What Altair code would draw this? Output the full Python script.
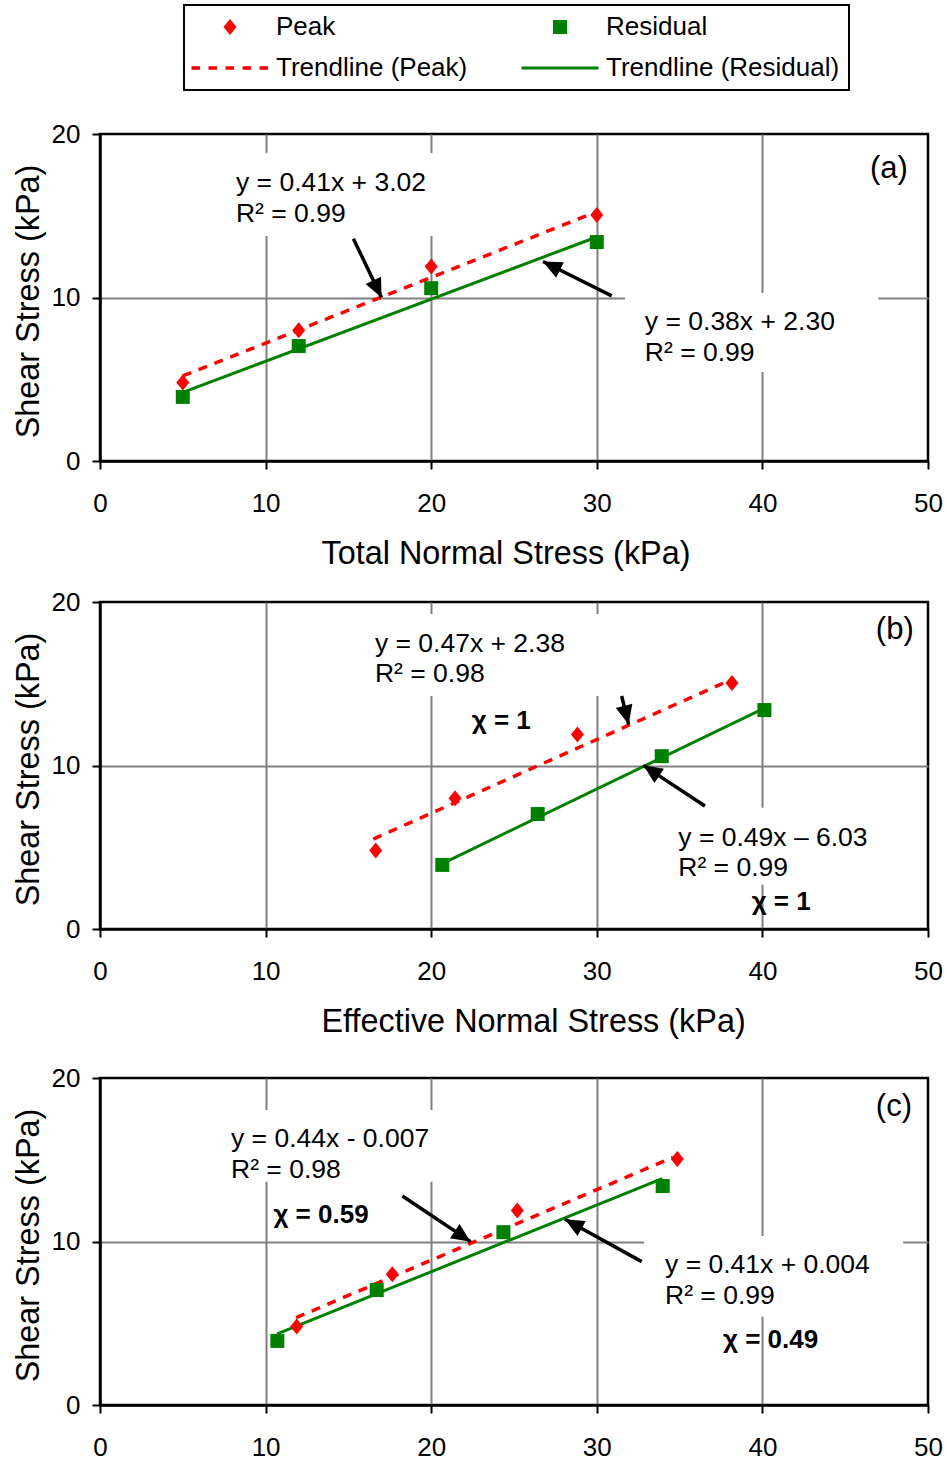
import math
import altair as alt
import pandas as pd

FONT = "Liberation Sans"
W, H = 828, 327
X_DOMAIN = [0, 50]
Y_DOMAIN = [0, 20]
X_TICKS = [0, 10, 20, 30, 40, 50]
Y_TICKS = [0, 10, 20]

SERIES = ["Peak", "Trendline (Peak)", "Residual", "Trendline (Residual)"]
SERIES_COLORS = ["#FF0000", "#FF0000", "#008000", "#008000"]

# shear stress values (kPa)
PEAK_TAU = [4.8, 8.0, 11.9, 15.05]
RES_TAU = [3.92, 7.03, 10.57, 13.39]

# normal stress values (kPa) per panel
A_PEAK_X = [5, 12, 20, 30]
A_RES_X = [5, 12, 20, 30]
B_PEAK_X = [16.65, 21.44, 28.83, 38.16]
B_RES_X = [20.67, 26.43, 33.92, 40.12]
C_PEAK_X = [11.88, 17.65, 25.2, 34.86]
C_RES_X = [10.71, 16.71, 24.36, 33.98]

# trendline end points
A_PEAK_TREND_X = [5, 30]
A_PEAK_TREND_Y = [5.2, 15.25]
A_RES_TREND_X = [5, 30]
A_RES_TREND_Y = [4.2, 13.7]
B_PEAK_TREND_X = [16.5, 38.0]
B_PEAK_TREND_Y = [5.5, 15.2]
B_RES_TREND_X = [20.67, 40.1]
B_RES_TREND_Y = [4.0, 13.5]
C_PEAK_TREND_X = [11.84, 34.6]
C_PEAK_TREND_Y = [5.34, 15.15]
C_RES_TREND_X = [10.7, 33.95]
C_RES_TREND_Y = [4.35, 13.85]

# equation annotations
A_EQ_TEXT = ["y = 0.41x + 3.02", "R² = 0.99", "y = 0.38x + 2.30", "R² = 0.99"]
A_EQ_X = [8.21, 8.21, 32.9, 32.9]
A_EQ_Y = [16.98, 15.09, 8.48, 6.59]
B_EQ_TEXT = ["y = 0.47x + 2.38", "R² = 0.98", "y = 0.49x – 6.03", "R² = 0.99"]
B_EQ_X = [16.6, 16.6, 34.92, 34.92]
B_EQ_Y = [17.43, 15.59, 5.55, 3.71]
C_EQ_TEXT = ["y = 0.44x - 0.007", "R² = 0.98", "y = 0.41x + 0.004", "R² = 0.99"]
C_EQ_X = [7.91, 7.91, 34.12, 34.12]
C_EQ_Y = [16.28, 14.35, 8.58, 6.65]

A_CHI_TEXT = []
A_CHI_X = []
A_CHI_Y = []
B_CHI_TEXT = ["χ = 1", "χ = 1"]
B_CHI_X = [22.45, 39.35]
B_CHI_Y = [12.75, 1.63]
C_CHI_TEXT = ["χ = 0.59", "χ = 0.49"]
C_CHI_X = [10.47, 37.62]
C_CHI_Y = [11.6, 4.0]

PANEL_LABELS = ["(a)", "(b)", "(c)"]
PANEL_LABEL_X = [46.5, 46.85, 46.85]
PANEL_LABEL_Y = [17.85, 18.27, 18.21]

# white label backgrounds
A_BOX_X = [8.0, 31.7]
A_BOX_X2 = [21.5, 47.0]
A_BOX_Y = [13.76, 5.44]
A_BOX_Y2 = [18.84, 10.27]
B_BOX_X = [16.0, 34.0]
B_BOX_X2 = [33.0, 47.5]
B_BOX_Y = [14.25, 2.7]
B_BOX_Y2 = [19.27, 7.42]
C_BOX_X = [7.5, 32.85]
C_BOX_X2 = [22.0, 48.5]
C_BOX_Y = [13.66, 5.4]
C_BOX_Y2 = [18.04, 10.34]

# arrows (tail -> head)
A_ARROW_X = [15.3, 30.9]
A_ARROW_Y = [13.6, 10.1]
A_ARROW_X2 = [17.0, 26.75]
A_ARROW_Y2 = [10.0, 12.2]
B_ARROW_X = [31.5, 36.53]
B_ARROW_Y = [14.25, 7.52]
B_ARROW_X2 = [31.92, 32.81]
B_ARROW_Y2 = [12.52, 10.01]
C_ARROW_X = [18.26, 32.71]
C_ARROW_Y = [12.78, 8.77]
C_ARROW_X2 = [22.38, 28.08]
C_ARROW_Y2 = [9.99, 11.36]

X_TITLES = ["Total Normal Stress (kPa)", "Effective Normal Stress (kPa)", None]
Y_TITLE = "Shear Stress (kPa)"

# symbol shapes (unit = sqrt(size)/2)
DIAMOND = "M0,-0.8L0.65,0L0,0.8L-0.65,0Z"
SQUARE = "M-0.7,-0.7H0.7V0.7H-0.7Z"
DASH_PATH = ("M-3.85,-0.175H-3.0V0.175H-3.85Z M-2.15,-0.175H-1.3V0.175H-2.15Z "
             "M-0.45,-0.175H0.4V0.175H-0.45Z M1.25,-0.175H2.1V0.175H1.25Z "
             "M2.95,-0.175H3.8V0.175H2.95Z")
SOLID_PATH = "M-3.85,-0.15H3.85V0.15H-3.85Z"
ARROW_HEAD = "M0,0L0.45,1L-0.45,1Z"

grid_x = {"condition": {"test": "datum.value === 0 || datum.value === 50", "value": 0}, "value": 1}
grid_y = {"condition": {"test": "datum.value === 0 || datum.value === 20", "value": 0}, "value": 1}


def x_enc(field, title):
    kw = dict(values=X_TICKS, grid=True, gridColor="#808080", gridWidth=2, gridOpacity=grid_x,
              domainColor="black", domainWidth=2.5, tickColor="black", tickWidth=2, tickSize=8,
              labelFont=FONT, labelFontSize=26, labelColor="black", labelPadding=21,
              labelFlush=False, titleFont=FONT, titleFontSize=32.4, titleFontWeight="normal",
              titleColor="black", titlePadding=21, titleX=221, titleAlign="left")
    return alt.X(field, type="quantitative", title=title,
                 scale=alt.Scale(domain=X_DOMAIN, nice=False, zero=False),
                 axis=alt.Axis(**kw))


def y_enc(field):
    kw = dict(values=Y_TICKS, grid=True, gridColor="#808080", gridWidth=2, gridOpacity=grid_y,
              domainColor="black", domainWidth=2.5, tickColor="black", tickWidth=2, tickSize=8,
              labelFont=FONT, labelFontSize=26, labelColor="black", labelPadding=12,
              labelFlush=False, titleFont=FONT, titleFontSize=32.4, titleFontWeight="normal",
              titleColor="black", titlePadding=6, titleY=167)
    return alt.Y(field, type="quantitative", title=Y_TITLE,
                 scale=alt.Scale(domain=Y_DOMAIN, nice=False, zero=False),
                 axis=alt.Axis(**kw))


def panel(i, peak_x, res_x, ptx, pty, rtx, rty, eq_t, eq_x, eq_y, chi_t, chi_x, chi_y,
          bx, bx2, by, by2, ax, ay, ax2, ay2, with_legend):
    xt = X_TITLES[i]
    sx = W / (X_DOMAIN[1] - X_DOMAIN[0])
    sy = H / (Y_DOMAIN[1] - Y_DOMAIN[0])

    boxes = alt.Chart(pd.DataFrame({"x": bx, "x2": bx2, "y": by, "y2": by2})).mark_rect(
        color="white", opacity=1).encode(x=x_enc("x", xt), x2="x2", y=y_enc("y"), y2="y2")

    peak_line = alt.Chart(pd.DataFrame({"x": ptx, "y": pty})).mark_line(
        color="#FF0000", strokeWidth=3.5, strokeDash=[9, 8]).encode(
        x=x_enc("x", xt), y=y_enc("y"))
    res_line = alt.Chart(pd.DataFrame({"x": rtx, "y": rty})).mark_line(
        color="#008000", strokeWidth=3).encode(x=x_enc("x", xt), y=y_enc("y"))

    angles = [math.degrees(math.atan2((x2 - x1) * sx, (y2 - y1) * sy)) % 360
              for x1, y1, x2, y2 in zip(ax, ay, ax2, ay2)]
    arrows_df = pd.DataFrame({"x": ax, "y": ay, "x2": ax2, "y2": ay2, "angle": angles})
    rules = alt.Chart(arrows_df).mark_rule(color="black", strokeWidth=3.5).encode(
        x=x_enc("x", xt), y=y_enc("y"), x2="x2", y2="y2")
    heads = alt.Chart(arrows_df).mark_point(
        shape=ARROW_HEAD, filled=True, color="black", opacity=1, size=1444, strokeWidth=0).encode(
        x=x_enc("x2", xt), y=y_enc("y2"), angle=alt.Angle("angle:Q", scale=None))

    pts_df = pd.DataFrame({"x": list(peak_x) + list(res_x), "y": PEAK_TAU + RES_TAU,
                           "series": ["Peak"] * len(peak_x) + ["Residual"] * len(res_x)})
    if with_legend:
        leg = alt.Legend(title=None, orient="none", legendX=84, legendY=-129, columns=2,
                         symbolSize=400, symbolStrokeWidth=0, symbolOpacity=1, symbolOffset=24,
                         labelFont=FONT, labelFontSize=26, labelColor="black", labelLimit=400,
                         labelOffset=33, padding=9, rowPadding=15, columnPadding=53,
                         strokeColor="black")
    else:
        leg = None
    points = alt.Chart(pts_df).mark_point(filled=True, opacity=1, size=400, strokeWidth=0).encode(
        x=x_enc("x", xt), y=y_enc("y"),
        color=alt.Color("series:N", scale=alt.Scale(domain=SERIES, range=SERIES_COLORS), legend=leg),
        shape=alt.Shape("series:N", scale=alt.Scale(domain=SERIES,
                        range=[DIAMOND, DASH_PATH, SQUARE, SOLID_PATH]), legend=leg))

    eq = alt.Chart(pd.DataFrame({"x": eq_x, "y": eq_y, "text": eq_t})).mark_text(
        align="left", baseline="middle", font=FONT, fontSize=26.5, color="black").encode(
        x=x_enc("x", xt), y=y_enc("y"), text="text:N")
    lab = alt.Chart(pd.DataFrame({"x": [PANEL_LABEL_X[i]], "y": [PANEL_LABEL_Y[i]],
                                  "text": [PANEL_LABELS[i]]})).mark_text(
        align="left", baseline="middle", font=FONT, fontSize=31, color="black").encode(
        x=x_enc("x", xt), y=y_enc("y"), text="text:N")
    layers = [boxes, peak_line, res_line, rules, heads, points, eq, lab]
    if chi_t:
        chi = alt.Chart(pd.DataFrame({"x": chi_x, "y": chi_y, "text": chi_t})).mark_text(
            align="left", baseline="middle", font=FONT, fontSize=26, fontWeight="bold",
            color="black").encode(x=x_enc("x", xt), y=y_enc("y"), text="text:N")
        layers.append(chi)
    return alt.layer(*layers).properties(width=W, height=H)


pa = panel(0, A_PEAK_X, A_RES_X, A_PEAK_TREND_X, A_PEAK_TREND_Y, A_RES_TREND_X, A_RES_TREND_Y,
           A_EQ_TEXT, A_EQ_X, A_EQ_Y, A_CHI_TEXT, A_CHI_X, A_CHI_Y,
           A_BOX_X, A_BOX_X2, A_BOX_Y, A_BOX_Y2, A_ARROW_X, A_ARROW_Y, A_ARROW_X2, A_ARROW_Y2, True)
pb = panel(1, B_PEAK_X, B_RES_X, B_PEAK_TREND_X, B_PEAK_TREND_Y, B_RES_TREND_X, B_RES_TREND_Y,
           B_EQ_TEXT, B_EQ_X, B_EQ_Y, B_CHI_TEXT, B_CHI_X, B_CHI_Y,
           B_BOX_X, B_BOX_X2, B_BOX_Y, B_BOX_Y2, B_ARROW_X, B_ARROW_Y, B_ARROW_X2, B_ARROW_Y2, False)
pc = panel(2, C_PEAK_X, C_RES_X, C_PEAK_TREND_X, C_PEAK_TREND_Y, C_RES_TREND_X, C_RES_TREND_Y,
           C_EQ_TEXT, C_EQ_X, C_EQ_Y, C_CHI_TEXT, C_CHI_X, C_CHI_Y,
           C_BOX_X, C_BOX_X2, C_BOX_Y, C_BOX_Y2, C_ARROW_X, C_ARROW_Y, C_ARROW_X2, C_ARROW_Y2, False)
pc = pc.properties(title=alt.TitleParams(text=" ", fontSize=8, offset=0))

chart = alt.vconcat(pa, pb, pc, spacing=16).resolve_scale(
    color="independent", shape="independent").properties(
    padding={"left": 10, "right": 0, "top": 2, "bottom": 0}).configure_view(
    stroke="black", strokeWidth=2.5).configure_legend(strokeWidth=2)

chart.save("out.html", embed_options={"renderer": "svg", "actions": False})
